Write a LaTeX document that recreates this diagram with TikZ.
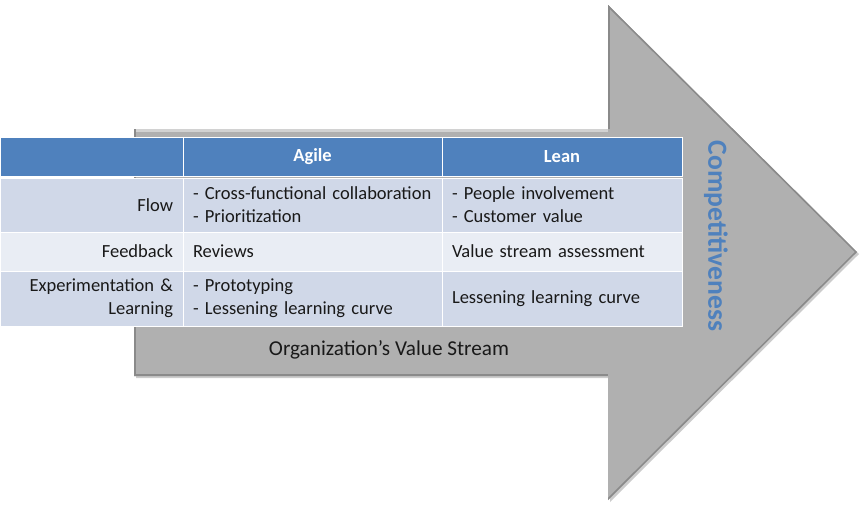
\documentclass[tikz,border=0pt]{standalone}
\usepackage{fontspec}
\setmainfont{Carlito}
\usetikzlibrary{positioning}

\definecolor{hblue}{HTML}{4F81BD}
\definecolor{rowdark}{HTML}{D0D8E8}
\definecolor{rowlight}{HTML}{E9EDF4}
\definecolor{arrowgray}{HTML}{B0B0B0}
\definecolor{edgedark}{HTML}{8A8A8A}
\definecolor{edgelight}{HTML}{D2D2D2}

\begin{document}
\begin{tikzpicture}[x=1pt, y=1pt, font=\fontsize{18.5}{23}\selectfont]
    \tikzstyle{head} = [rectangle, fill=hblue, draw=white, line width=1pt, outer sep=0pt, inner xsep=10pt, inner ysep=0pt, minimum height=39pt, align=center, text=white, font=\fontsize{18.5}{23}\selectfont\bfseries]
    \tikzstyle{cell} = [rectangle, fill=rowdark, draw=white, line width=1pt, outer sep=0pt, inner xsep=10pt, inner ysep=0pt, text=black!90]
    \tikzstyle{lightcell} = [cell, fill=rowlight]
    \useasboundingbox (0,0) rectangle (863,-509);

    % the value stream arrow
    \path[fill=black!20] (136,-131) -- (610,-131) -- (610,-7) -- (859,-254) -- (610,-502) -- (610,-378) -- (136,-378) -- cycle;
    \path[fill=arrowgray] (134,-129) -- (608,-129) -- (608,-5) -- (857,-252) -- (608,-500) -- (608,-376) -- (134,-376) -- cycle;
    \begin{scope}
        \clip (134,-129) -- (608,-129) -- (608,-5) -- (857,-252) -- (608,-500) -- (608,-376) -- (134,-376) -- cycle;
        \draw[edgelight, line width=5pt] (134,-129) -- (608,-129);
        \draw[edgedark, line width=4pt] (134,-129) -- (134,-376);
        \draw[edgedark, line width=4pt] (608,-129) -- (608,-5);
        \draw[edgedark, line width=4pt] (134,-376) -- (608,-376);
        \draw[edgedark, line width=3pt] (608,-5) -- (857,-252) -- (608,-500);
    \end{scope}
    \node[font=\fontsize{21.2}{24}\selectfont, text=black!90] (stream) at (389,-350) {Organization’s Value Stream};
    \node[rotate=-90, font=\fontsize{27.6}{30}\selectfont\bfseries, text=hblue] (compet) at (716,-236) {Competitiveness};

    % the table
    \node[head, text width=163pt, anchor=north west] (h0) at (0,-137) {};
    \node[head, text width=239pt, right=0pt of h0] (agile) {Agile};
    \node[head, text width=220pt, right=0pt of agile] (lean) {Lean};

    \node[cell, text width=163pt, minimum height=54pt, align=right, below=2pt of h0] (flow) {Flow};
    \node[cell, text width=239pt, minimum height=54pt, align=left, right=0pt of flow] (flowagile) {- Cross-functional collaboration\\- Prioritization};
    \node[cell, text width=220pt, minimum height=54pt, align=left, right=0pt of flowagile] (flowlean) {- People involvement\\- Customer value};

    \node[lightcell, text width=163pt, minimum height=39pt, align=right, below=0pt of flow] (feed) {Feedback};
    \node[lightcell, text width=239pt, minimum height=39pt, align=left, right=0pt of feed] (feedagile) {Reviews};
    \node[lightcell, text width=220pt, minimum height=39pt, align=left, right=0pt of feedagile] (feedlean) {Value stream assessment};

    \node[cell, text width=163pt, minimum height=55pt, align=right, below=0pt of feed] (learn) {Experimentation \&\\Learning};
    \node[cell, text width=239pt, minimum height=55pt, align=left, right=0pt of learn] (learnagile) {- Prototyping\\- Lessening learning curve};
    \node[cell, text width=220pt, minimum height=55pt, align=left, right=0pt of learnagile] (learnlean) {Lessening learning curve};
\end{tikzpicture}
\end{document}
